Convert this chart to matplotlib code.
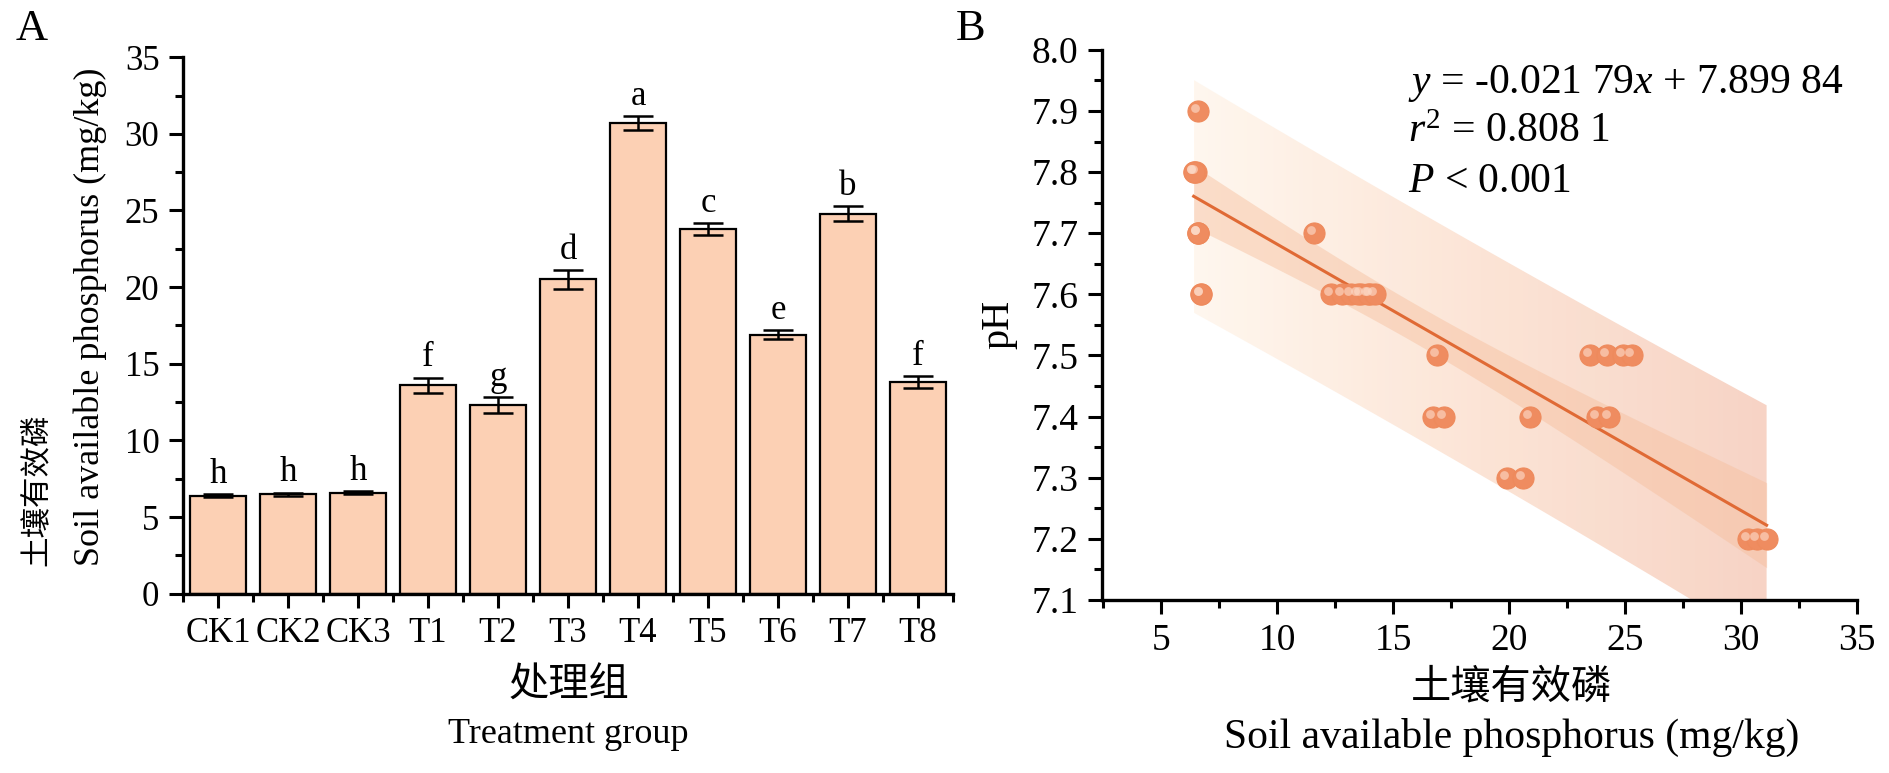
import numpy as np
import matplotlib
matplotlib.use("Agg")
import matplotlib.pyplot as plt
import matplotlib.transforms as mtransforms
from matplotlib.colors import LinearSegmentedColormap
from matplotlib.patches import Polygon
from matplotlib.ticker import MultipleLocator, FixedLocator

plt.rcParams['font.family'] = ['Liberation Serif', 'Noto Sans CJK SC']
plt.rcParams['mathtext.fontset'] = 'custom'
plt.rcParams['mathtext.rm'] = 'Liberation Serif'
plt.rcParams['mathtext.it'] = 'Liberation Serif:italic'

# panel A data
groups = ['CK1', 'CK2', 'CK3', 'T1', 'T2', 'T3', 'T4', 'T5', 'T6', 'T7', 'T8']
phos_mean = [6.4, 6.5, 6.6, 13.6, 12.3, 20.5, 30.7, 23.8, 16.9, 24.8, 13.8]
phos_err = [0.1, 0.1, 0.1, 0.5, 0.5, 0.6, 0.45, 0.4, 0.3, 0.5, 0.4]
letters = ['h', 'h', 'h', 'f', 'g', 'd', 'a', 'c', 'e', 'b', 'f']

# panel B data
soil_p = [6.6, 6.4, 6.5, 6.6, 6.6, 6.7, 6.7, 6.4, 6.6,
          11.6, 12.3, 12.8, 13.2, 13.6, 14.0, 13.5, 13.9, 14.2,
          16.7, 17.2, 16.9, 19.9, 20.6, 20.9,
          23.5, 23.8, 24.3, 24.2, 24.9, 25.3,
          30.3, 30.7, 31.1]
ph = [7.9, 7.8, 7.8, 7.7, 7.7, 7.6, 7.6, 7.8, 7.7,
      7.7, 7.6, 7.6, 7.6, 7.6, 7.6, 7.6, 7.6, 7.6,
      7.4, 7.4, 7.5, 7.3, 7.3, 7.4,
      7.5, 7.4, 7.4, 7.5, 7.5, 7.5,
      7.2, 7.2, 7.2]
slope = -0.02179
intercept = 7.89984
t_val = 2.04

fig = plt.figure(figsize=(18.89, 7.73), dpi=100)

# ---------- A ----------
axA = fig.add_axes([0.0969, 0.232, 0.4076, 0.694])
xpos = np.arange(len(groups))
axA.bar(xpos, phos_mean, width=0.8, color='#FCD0B4', edgecolor='black', linewidth=1.6, zorder=2)
axA.errorbar(xpos, phos_mean, yerr=phos_err, fmt='none', ecolor='black',
             capsize=11, elinewidth=1.8, capthick=1.8, zorder=3)
for i in range(len(groups)):
    axA.text(xpos[i], phos_mean[i] + phos_err[i] + 0.2, letters[i],
             ha='center', va='bottom', fontsize=25)
axA.set_xlim(-0.5, len(groups) - 0.5)
axA.set_ylim(0, 35)
axA.set_xticks(xpos)
axA.set_xticklabels(groups)
axA.xaxis.set_minor_locator(FixedLocator(np.arange(-0.5, len(groups), 1)))
axA.yaxis.set_major_locator(MultipleLocator(5))
axA.yaxis.set_minor_locator(MultipleLocator(2.5))

# ---------- B ----------
axB = fig.add_axes([0.5834, 0.224, 0.3997, 0.7115])
xs = np.array(soil_p)
ys = np.array(ph)
n = len(xs)
resid = ys - (intercept + slope * xs)
s = np.sqrt(np.sum(resid ** 2) / (n - 2))
xm = xs.mean()
sxx = np.sum((xs - xm) ** 2)
xf = np.linspace(xs.min(), xs.max(), 200)
yf = intercept + slope * xf
ci = t_val * s * np.sqrt(1 / n + (xf - xm) ** 2 / sxx)
pi = t_val * s * np.sqrt(1 + 1 / n + (xf - xm) ** 2 / sxx)

# prediction band with a gradient
cmap = LinearSegmentedColormap.from_list('band', ['#FFF6EC', '#FCE0CF', '#F6CCBB'])
grad = np.linspace(0, 1, 256).reshape(1, -1)
img = axB.imshow(grad, cmap=cmap, aspect='auto', alpha=0.85,
                 extent=[xf.min(), xf.max(), 7.0, 8.1], origin='lower', zorder=1)
poly = Polygon(np.column_stack([np.r_[xf, xf[::-1]], np.r_[yf + pi, (yf - pi)[::-1]]]),
               closed=True, facecolor='none', edgecolor='none')
axB.add_patch(poly)
img.set_clip_path(poly)

axB.fill_between(xf, yf - ci, yf + ci, color='#F6BE9C', alpha=0.45, linewidth=0, zorder=2)
axB.plot(xf, yf, color='#E06A35', linewidth=2.2, zorder=3)

axB.scatter(xs, ys, s=230, color='#EF8C60', edgecolors='#EE8A5C', linewidths=0.8, zorder=4)
hl = mtransforms.offset_copy(axB.transData, fig=fig, x=-3, y=3, units='dots')
axB.scatter(xs, ys, s=40, color='#FCD9C6', alpha=0.65, linewidths=0, transform=hl, zorder=5)

axB.set_xlim(2.45, 35)
axB.set_ylim(7.1, 8.0)
axB.xaxis.set_major_locator(MultipleLocator(5))
axB.xaxis.set_minor_locator(MultipleLocator(2.5))
axB.yaxis.set_major_locator(MultipleLocator(0.1))
axB.yaxis.set_minor_locator(MultipleLocator(0.05))
axB.yaxis.set_major_formatter(matplotlib.ticker.FormatStrFormatter('%.1f'))

ANN = 30
axB.text(0.405, 0.938, '$y$ = -0.021 79$x$ + 7.899 84', transform=axB.transAxes,
         fontsize=ANN, va='center')
axB.text(0.405, 0.852, '$r^2$ = 0.808 1', transform=axB.transAxes, fontsize=ANN, va='center')
axB.text(0.405, 0.760, '$P$ < 0.001', transform=axB.transAxes, fontsize=ANN, va='center')

for ax, tsize in ((axA, 25), (axB, 27)):
    ax.spines['top'].set_visible(False)
    ax.spines['right'].set_visible(False)
    ax.spines['left'].set_linewidth(2.4)
    ax.spines['bottom'].set_linewidth(2.4)
    ax.tick_params(which='major', direction='out', length=10, width=2.2, labelsize=tsize, pad=7)
    ax.tick_params(which='minor', direction='out', length=6, width=2.2)

# labels
cjk = ['Noto Sans CJK SC']
fig.text(0.017, 0.963, 'A', fontsize=32, ha='center', va='center')
fig.text(0.514, 0.963, 'B', fontsize=32, ha='center', va='center')

fig.text(0.048, 0.268, 'Soil available phosphorus (mg/kg)', rotation=90,
         fontsize=26, ha='center', va='bottom')
fig.text(0.019, 0.268, '土壤有效磷', rotation=90, fontsize=22, family=cjk,
         fontweight='light', ha='center', va='bottom')
fig.text(0.301, 0.113, '处理组', fontsize=29, family=cjk, fontweight='light',
         ha='center', va='center')
fig.text(0.301, 0.050, 'Treatment group', fontsize=26, ha='center', va='center')

fig.text(0.529, 0.58, 'pH', rotation=90, fontsize=29, ha='center', va='center')
fig.text(0.800, 0.111, '土壤有效磷', fontsize=29, family=cjk, fontweight='light',
         ha='center', va='center')
fig.text(0.800, 0.046, 'Soil available phosphorus (mg/kg)', fontsize=30, ha='center', va='center')

fig.savefig('out.png', dpi=100)
